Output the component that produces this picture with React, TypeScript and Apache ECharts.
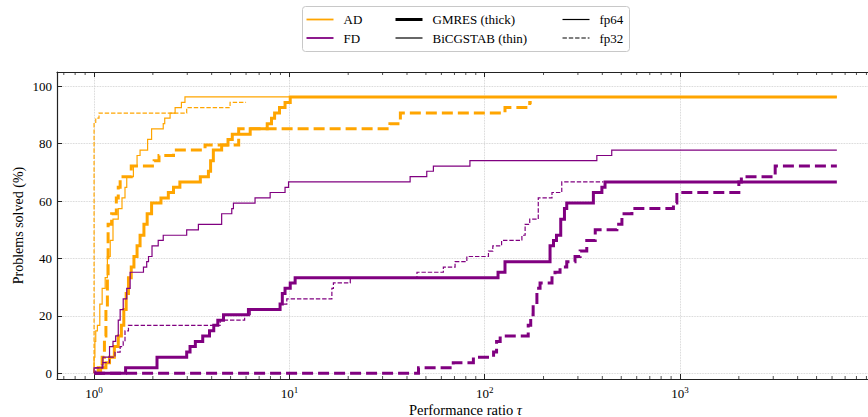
import React, { useEffect, useRef } from 'react';
import * as echarts from 'echarts';

const ORANGE = '#FFA500';
const PURPLE = '#800080';
const FONT = '"Liberation Serif", "DejaVu Serif", serif';

// Performance profiles: [tau, % problems solved] (steps-post)
const adGmresFp64: [number, number][] = [
  [1.0, 0], [1.08, 1.9], [1.15, 3.7], [1.2, 5.6], [1.27, 9.3], [1.33, 13], [1.38, 16.7], [1.42, 22.2],
  [1.46, 27.8], [1.5, 33.3], [1.55, 37], [1.6, 40.7], [1.66, 44.4], [1.72, 48.1], [1.8, 51.9],
  [1.87, 55.6], [1.97, 59.3], [2.2, 61.1], [2.4, 63], [2.55, 64.8], [2.75, 66.7], [3.5, 68.5],
  [3.85, 70.4], [3.95, 74.1], [4.08, 77.8], [4.5, 79.6], [4.85, 81.5], [5.1, 83.3], [6.3, 85.2],
  [7.7, 87], [8.1, 88.9], [8.4, 90.7], [8.9, 92.6], [9.5, 94.4], [10.1, 96.3], [6350, 96.3],
];
const adGmresFp32: [number, number][] = [
  [1.0, 0], [1.05, 1.9], [1.1, 5.6], [1.13, 13], [1.15, 22.2], [1.17, 33.3], [1.18, 51.9],
  [1.23, 55.6], [1.3, 61.1], [1.33, 64.8], [1.36, 68.5], [1.55, 72.2], [2.03, 74.1], [2.15, 75.9],
  [2.55, 77.8], [3.7, 79.6], [5.5, 85.2], [32.7, 87], [37, 90.7], [127, 92.6], [170, 94.4], [174, 94.4],
];
const adBicgFp64: [number, number][] = [
  [1.0, 0], [1.0, 5.6], [1.01, 11.1], [1.02, 14.8], [1.04, 16.7], [1.07, 24.1], [1.1, 29.6],
  [1.14, 33.3], [1.17, 40.7], [1.21, 46.3], [1.25, 53.7], [1.33, 57.4], [1.39, 61.1], [1.44, 64.8],
  [1.47, 68.5], [1.59, 72.2], [1.66, 75.9], [1.72, 77.8], [1.88, 81.5], [1.97, 85.2], [2.26, 87],
  [2.3, 88.9], [2.45, 90.7], [2.6, 92.6], [2.8, 94.4], [2.92, 96.3], [6350, 96.3],
];
const adBicgFp32: [number, number][] = [
  [1.0, 0], [1.0, 87], [1.02, 88.9], [1.06, 90.7], [2.98, 92.6], [4.97, 94.4], [6.0, 94.4],
];
const fdGmresFp64: [number, number][] = [
  [1.0, 0], [1.45, 1.9], [2.1, 5.6], [2.98, 7.4], [3.1, 9.3], [3.3, 11.1], [3.6, 13], [3.9, 14.8],
  [4.1, 16.7], [4.3, 18.5], [4.6, 20.4], [6.17, 22.2], [8.96, 24.1], [9.2, 27.8], [9.5, 29.6],
  [10.1, 31.5], [10.7, 33.3], [117, 35.2], [127, 38.9], [216, 44.4], [225, 46.3], [233, 48.1],
  [245, 53.7], [256, 57.4], [263, 59.3], [360, 63], [398, 64.8], [413, 66.7], [6350, 66.7],
];
const fdGmresFp32: [number, number][] = [
  [1.0, 0], [45.8, 1.9], [69, 3.7], [87.5, 5.6], [111, 7.4], [115, 11.1], [120, 13], [167, 16.7],
  [172, 20.4], [177, 24.1], [185, 29.6], [192, 31.5], [221, 33.3], [229, 35.2], [243, 37],
  [263, 38.9], [290, 40.7], [308, 42.6], [333, 46.3], [368, 50], [475, 51.9], [504, 55.6],
  [567, 57.4], [925, 59.3], [963, 63], [2000, 66.7], [2060, 68.5], [3070, 72.2], [6350, 72.2],
];
const fdBicgFp64: [number, number][] = [
  [1.0, 0], [1.0, 1.9], [1.11, 5.6], [1.2, 9.3], [1.25, 11.1], [1.29, 13], [1.33, 18.5],
  [1.36, 22.2], [1.41, 25.9], [1.47, 29.6], [1.53, 35.2], [1.79, 37], [1.86, 38.9], [1.9, 40.7],
  [1.98, 44.4], [2.13, 46.3], [2.26, 48.1], [2.98, 50], [3.42, 51.9], [4.5, 55.6], [5.07, 57.4],
  [5.17, 59.3], [6.67, 61.1], [7.97, 63], [9.5, 64.8], [9.9, 66.7], [41.5, 68.5], [50.5, 70.4],
  [54.6, 72.2], [84, 74.1], [375, 75.9], [447, 77.8], [6350, 77.8],
];
const fdBicgFp32: [number, number][] = [
  [1.0, 0], [1.02, 1.9], [1.1, 3.7], [1.2, 5.6], [1.28, 7.4], [1.36, 9.3], [1.41, 11.1],
  [1.44, 14.8], [1.5, 16.7], [4.42, 18.5], [5.9, 20.4], [6.3, 22.2], [9.0, 24.1], [9.7, 25.9],
  [16.5, 29.6], [16.8, 31.5], [20.5, 33.3], [45, 35.2], [61.4, 37], [70.5, 38.9], [81, 40.7],
  [104.5, 42.6], [110, 44.4], [122, 46.3], [155, 48.1], [161, 51.9], [170, 53.7], [188, 61.1],
  [221, 63], [248, 66.7], [405, 66.7],
];

const minorTickValues = [
  0.7, 0.8, 0.9, 2, 3, 4, 5, 6, 7, 8, 9, 20, 30, 40, 50, 60, 70, 80, 90,
  200, 300, 400, 500, 600, 700, 800, 900, 2000, 3000, 4000, 5000, 6000, 7000, 8000, 9000,
];

const legendRows1 = ['AD', 'GMRES (thick)', 'fp64'];
const legendRows2 = ['FD', 'BiCGSTAB (thin)', 'fp32'];

const THICK = 3;
const THIN = 1.2;

function lineSeries(name: string, data: [number, number][], color: string, width: number, dashed: boolean) {
  return {
    name,
    type: 'line',
    step: 'end',
    data,
    showSymbol: false,
    symbol: 'none',
    silent: true,
    lineStyle: {
      color,
      width,
      type: dashed ? (width > 2 ? [11, 5] : [4.4, 1.9]) : 'solid',
      cap: 'butt',
      join: 'miter',
    },
  };
}

export default function App() {
  const ref = useRef<HTMLDivElement>(null);
  useEffect(() => {
    if (!ref.current) return;
    const chart = echarts.init(ref.current, undefined, { renderer: 'svg' });
    const axisColor = '#222';
    const splitLine = { show: true, lineStyle: { color: '#c8c8c8', type: 'dotted', width: 0.8 } };
    const option: any = {
      animation: false,
      backgroundColor: '#fff',
      textStyle: { fontFamily: FONT },
      grid: { left: 57, top: 72, width: 817, height: 307, containLabel: false, outerBoundsMode: 'none' },
      xAxis: [
        {
          type: 'log',
          logBase: 10,
          min: 0.646,
          max: 9840,
          position: 'bottom',
          axisLine: { show: true, onZero: false, lineStyle: { color: axisColor, width: 1.2 } },
          axisTick: { show: true, inside: true, length: 5, lineStyle: { color: axisColor, width: 1 } },
          axisLabel: {
            show: true,
            margin: 6,
            showMinLabel: false,
            showMaxLabel: false,
            formatter: (v: number) => {
              const k = Math.round(Math.log10(v));
              return '{b|10}{s|' + k + '}';
            },
            rich: {
              b: { fontSize: 13, fontFamily: FONT, color: '#000', verticalAlign: 'bottom' },
              s: { fontSize: 9, fontFamily: FONT, color: '#000', verticalAlign: 'bottom', padding: [0, 0, 6, 0] },
            },
          },
          splitLine,
          name: 'Performance ratio {i|τ}',
          nameLocation: 'middle',
          nameGap: 23,
          nameMoveOverlap: false,
          nameTextStyle: {
            fontSize: 14.5,
            fontFamily: FONT,
            color: '#000',
            rich: { i: { fontSize: 14.5, fontFamily: FONT, fontStyle: 'italic', color: '#000' } },
          },
        },
        {
          type: 'log',
          logBase: 10,
          min: 0.646,
          max: 9840,
          position: 'top',
          axisLine: { show: true, onZero: false, lineStyle: { color: axisColor, width: 1.2 } },
          axisTick: { show: true, inside: true, length: 5, lineStyle: { color: axisColor, width: 1 } },
          axisLabel: { show: false },
          splitLine: { show: false },
        },
      ],
      yAxis: [
        {
          type: 'value',
          min: -2,
          max: 105,
          splitNumber: 5,
          axisLine: { show: true, onZero: false, lineStyle: { color: axisColor, width: 1.2 } },
          axisTick: { show: true, inside: true, length: 5, lineStyle: { color: axisColor, width: 1 } },
          axisLabel: {
            margin: 5,
            showMinLabel: false,
            showMaxLabel: false,
            fontSize: 13,
            fontFamily: FONT,
            color: '#000',
          },
          splitLine,
          name: 'Problems solved (%)',
          nameLocation: 'middle',
          nameGap: 32,
          nameMoveOverlap: false,
          nameTextStyle: { fontSize: 14, fontFamily: FONT, color: '#000' },
        },
      ],
      series: [
        lineSeries('AD BiCGSTAB fp64', adBicgFp64, ORANGE, THIN, false),
        lineSeries('AD BiCGSTAB fp32', adBicgFp32, ORANGE, THIN, true),
        lineSeries('AD GMRES fp64', adGmresFp64, ORANGE, THICK, false),
        lineSeries('AD GMRES fp32', adGmresFp32, ORANGE, THICK, true),
        lineSeries('FD BiCGSTAB fp64', fdBicgFp64, PURPLE, THIN, false),
        lineSeries('FD BiCGSTAB fp32', fdBicgFp32, PURPLE, THIN, true),
        lineSeries('FD GMRES fp64', fdGmresFp64, PURPLE, THICK, false),
        lineSeries('FD GMRES fp32', fdGmresFp32, PURPLE, THICK, true),
        {
          type: 'custom',
          name: 'minor ticks',
          silent: true,
          clip: false,
          z: 5,
          data: minorTickValues.map((v) => [v, 0]),
          encode: { x: 0, y: 1 },
          renderItem: (params: any, api: any) => {
            const cs = params.coordSys;
            const px = api.coord([api.value(0), 0])[0];
            const st = { stroke: axisColor, lineWidth: 0.8 };
            return {
              type: 'group',
              children: [
                { type: 'line', shape: { x1: px, y1: cs.y + cs.height, x2: px, y2: cs.y + cs.height - 3 }, style: st },
                { type: 'line', shape: { x1: px, y1: cs.y, x2: px, y2: cs.y + 3 }, style: st },
              ],
            };
          },
        },
      ],
      graphic: [
        {
          type: 'group',
          left: 302,
          top: 6,
          children: [
            { type: 'rect', shape: { x: 0, y: 0, width: 327, height: 45, r: 3 }, style: { fill: '#fff', stroke: '#c8c8c8', lineWidth: 1 } },
            { type: 'line', shape: { x1: 4, y1: 13, x2: 31, y2: 13 }, style: { stroke: ORANGE, lineWidth: 1.8 } },
            { type: 'line', shape: { x1: 4, y1: 31.5, x2: 31, y2: 31.5 }, style: { stroke: PURPLE, lineWidth: 1.8 } },
            { type: 'line', shape: { x1: 93, y1: 13, x2: 120, y2: 13 }, style: { stroke: '#000', lineWidth: 3 } },
            { type: 'line', shape: { x1: 93, y1: 31.5, x2: 120, y2: 31.5 }, style: { stroke: '#000', lineWidth: 1.2 } },
            { type: 'line', shape: { x1: 260, y1: 13, x2: 287, y2: 13 }, style: { stroke: '#000', lineWidth: 1.2 } },
            { type: 'line', shape: { x1: 260, y1: 31.5, x2: 287, y2: 31.5 }, style: { stroke: '#000', lineWidth: 1.2, lineDash: [4.4, 1.9] } },
            { type: 'text', x: 41, y: 13, style: { text: legendRows1[0], fontSize: 13, fontFamily: FONT, fill: '#000', verticalAlign: 'middle' } },
            { type: 'text', x: 41, y: 31.5, style: { text: legendRows2[0], fontSize: 13, fontFamily: FONT, fill: '#000', verticalAlign: 'middle' } },
            { type: 'text', x: 130, y: 13, style: { text: legendRows1[1], fontSize: 13, fontFamily: FONT, fill: '#000', verticalAlign: 'middle' } },
            { type: 'text', x: 130, y: 31.5, style: { text: legendRows2[1], fontSize: 13, fontFamily: FONT, fill: '#000', verticalAlign: 'middle' } },
            { type: 'text', x: 297, y: 13, style: { text: legendRows1[2], fontSize: 13, fontFamily: FONT, fill: '#000', verticalAlign: 'middle' } },
            { type: 'text', x: 297, y: 31.5, style: { text: legendRows2[2], fontSize: 13, fontFamily: FONT, fill: '#000', verticalAlign: 'middle' } },
          ],
        },
      ],
    };
    chart.setOption(option);
    return () => chart.dispose();
  }, []);
  return (
    <div
      ref={ref}
      style={{ position: 'fixed', left: 0, top: 0, width: 868, height: 417, background: '#fff' }}
    />
  );
}
